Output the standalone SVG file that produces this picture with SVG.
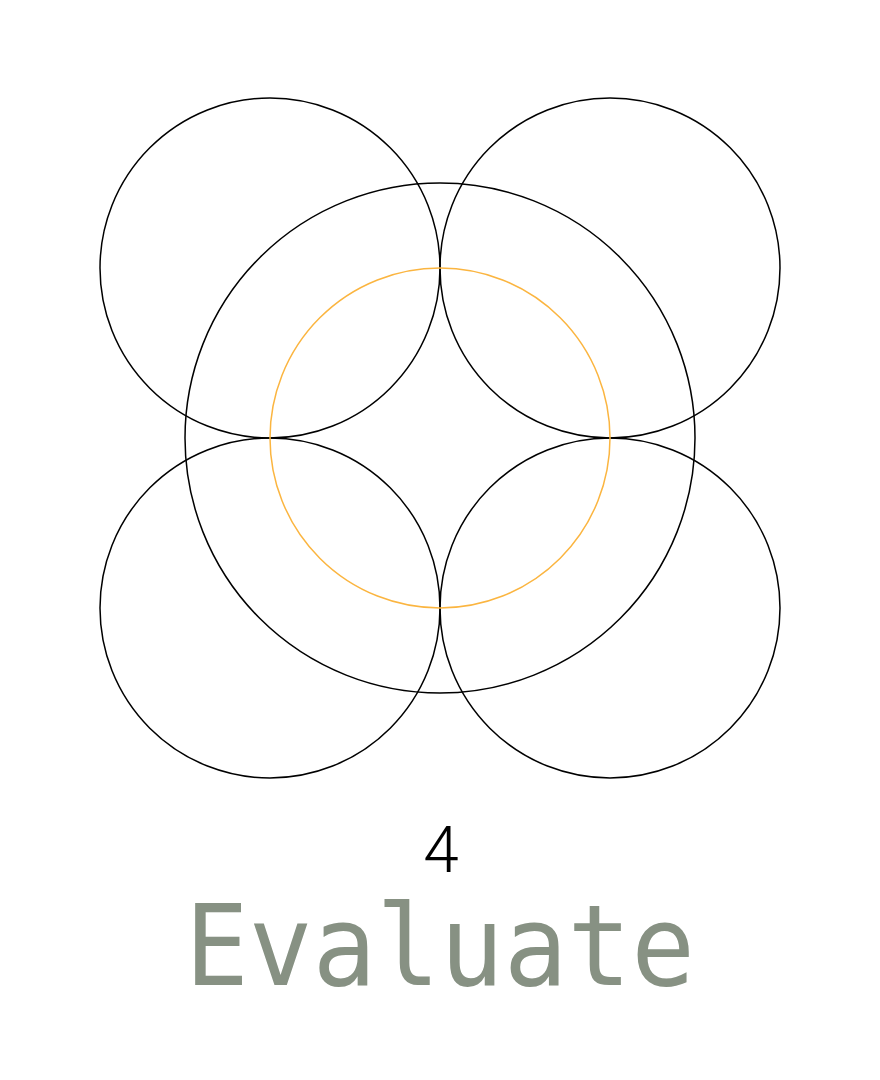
<svg xmlns="http://www.w3.org/2000/svg" width="880" height="1080" viewBox="0 0 880 1080">
<style>
.c{fill:none;stroke:#000;stroke-width:1.5}
.o{fill:none;stroke:#fbb540;stroke-width:1.5}
.num{font-family:Roboto,"Liberation Sans",sans-serif;font-weight:300;font-size:64px;fill:#000}
.lbl{font-family:"DejaVu Sans Mono","Liberation Mono",monospace;font-size:112px;fill:#879183}
</style>
<rect width="880" height="1080" fill="#fff"/>
<g id="circle-tl"><circle class="c" cx="270" cy="268" r="170"/></g>
<g id="circle-tr"><circle class="c" cx="610" cy="268" r="170"/></g>
<g id="circle-bl"><circle class="c" cx="270" cy="608" r="170"/></g>
<g id="circle-br"><circle class="c" cx="610" cy="608" r="170"/></g>
<g id="circle-big"><circle class="c" cx="440" cy="438" r="255"/></g>
<g id="circle-inner"><circle class="o" cx="440" cy="438" r="170"/></g>
<g id="connectors"/>
<g id="label">
<text class="num" x="441" y="872" text-anchor="middle">4</text>
<text class="lbl" x="185" y="985" textLength="510" lengthAdjust="spacingAndGlyphs">Evaluate</text>
</g>
</svg>
